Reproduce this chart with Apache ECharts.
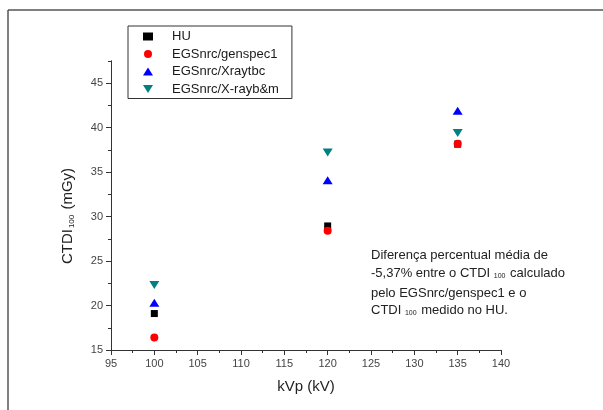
<!DOCTYPE html>
<html>
<head>
<meta charset="utf-8">
<script src="https://cdn.jsdelivr.net/npm/echarts@6/dist/echarts.min.js"></script>
<style>
html,body{margin:0;padding:0;background:#fff;}
#chart{width:603px;height:410px;}
</style>
</head>
<body>
<div id="chart"></div>
<script>
// kVp categories (x values)
const kvp = [100, 120, 135];
// CTDI100 (mGy) values per series
const huValues = [19.1, 28.95, 38.15];
const genspec1Values = [16.4, 28.4, 38.2];
const xraytbcValues = [20.3, 34.1, 41.9];
const xraybmValues = [22.3, 37.2, 39.4];
const seriesNames = ['HU', 'EGSnrc/genspec1', 'EGSnrc/Xraytbc', 'EGSnrc/X-rayb&m'];
const yTickLabels = [15, 20, 25, 30, 35, 40, 45];
const xTickLabels = [95, 100, 105, 110, 115, 120, 125, 130, 135, 140];

const FONT = "'Liberation Sans', Arial, Helvetica, sans-serif";

function pairs(vals) { return kvp.map((k, i) => [k, vals[i]]); }

const chart = echarts.init(document.getElementById('chart'), null, {renderer: 'canvas'});

const axisColor = '#333';
const downTri = 'path://M0,0L10,0L5,8Z';

chart.setOption({
  animation: false,
  backgroundColor: '#fff',
  grid: {left: 111, right: 102, top: 61, bottom: 60, containLabel: false},
  legend: {
    orient: 'vertical',
    left: 128, top: 26,
    padding: [2, 13, 1, 15],
    itemWidth: 10, itemHeight: 8,
    itemGap: 0.5,
    borderColor: '#333', borderWidth: 1,
    textStyle: {fontFamily: FONT, fontSize: 13, color: '#1a1a1a', lineHeight: 17, padding: [0, 0, 0, 14]},
    data: [
      {name: seriesNames[0], icon: 'rect'},
      {name: seriesNames[1], icon: 'circle'},
      {name: seriesNames[2], icon: 'triangle'},
      {name: seriesNames[3], icon: downTri}
    ]
  },
  xAxis: [{
    type: 'value',
    min: 95, max: 140, interval: 5,
    axisLine: {show: true, onZero: false, lineStyle: {color: axisColor, width: 1}},
    axisTick: {show: true, length: 5, lineStyle: {color: axisColor, width: 1}},
    splitLine: {show: false},
    axisLabel: {fontFamily: FONT, fontSize: 11, color: '#444', margin: 8,
      formatter: v => (xTickLabels.indexOf(v) >= 0 ? String(v) : '')},
    name: 'kVp (kV)',
    nameLocation: 'middle',
    nameGap: 29,
    nameTextStyle: {fontFamily: FONT, fontSize: 15, color: '#222'}
  }, {
    type: 'value',
    min: 95, max: 140, interval: 2.5,
    position: 'bottom',
    axisLine: {show: true, onZero: false, lineStyle: {color: axisColor, width: 1}},
    axisTick: {show: true, length: 3, lineStyle: {color: axisColor, width: 1}},
    splitLine: {show: false},
    axisLabel: {show: false}
  }],
  yAxis: [{
    type: 'value',
    min: 15, max: 47.5, interval: 5,
    position: 'left',
    axisLine: {show: true, onZero: false, lineStyle: {color: axisColor, width: 1}},
    axisTick: {show: true, length: 5, lineStyle: {color: axisColor, width: 1}, customValues: yTickLabels},
    splitLine: {show: false},
    axisLabel: {fontFamily: FONT, fontSize: 11, color: '#444', margin: 8, customValues: yTickLabels}
  }, {
    type: 'value',
    min: 15, max: 47.5, interval: 2.5,
    position: 'left',
    axisLine: {show: true, onZero: false, lineStyle: {color: axisColor, width: 1}},
    axisTick: {show: true, length: 3, lineStyle: {color: axisColor, width: 1}},
    splitLine: {show: false},
    axisLabel: {show: false}
  }],
  series: [
    {name: seriesNames[0], type: 'scatter', symbol: 'rect', symbolSize: 7,
      itemStyle: {color: '#000000', opacity: 1}, data: pairs(huValues)},
    {name: seriesNames[1], type: 'scatter', symbol: 'circle', symbolSize: 8,
      itemStyle: {color: '#ff0000', opacity: 1}, data: pairs(genspec1Values)},
    {name: seriesNames[2], type: 'scatter', symbol: 'triangle', symbolSize: [10, 8],
      itemStyle: {color: '#0000ff', opacity: 1}, data: pairs(xraytbcValues)},
    {name: seriesNames[3], type: 'scatter', symbol: 'triangle', symbolRotate: 180, symbolSize: [10, 8],
      itemStyle: {color: '#008080', opacity: 1}, data: pairs(xraybmValues)}
  ],
  graphic: [
    {type: 'line', shape: {x1: 8, y1: 10, x2: 603, y2: 10}, style: {stroke: '#555', lineWidth: 1.5}, silent: true},
    {type: 'line', shape: {x1: 8, y1: 10, x2: 8, y2: 410}, style: {stroke: '#555', lineWidth: 1.5}, silent: true},
    {type: 'text', x: 68, y: 216, rotation: Math.PI / 2,
      style: {text: 'CTDI{s|100} (mGy)', fontFamily: FONT, fontSize: 15, fill: '#222',
        align: 'center', verticalAlign: 'middle',
        rich: {s: {fontSize: 8, fontFamily: FONT, fill: '#222', verticalAlign: 'bottom', padding: [6, 1, 0, 1]}}}},
    {type: 'text', x: 371, y: 255,
      style: {text: 'Diferença percentual média de', fontFamily: FONT, fontSize: 13, fill: '#222', verticalAlign: 'middle'}},
    {type: 'text', x: 371, y: 273,
      style: {text: '-5,37% entre o CTDI {s|100} calculado', fontFamily: FONT, fontSize: 13, fill: '#222', verticalAlign: 'middle',
        rich: {s: {fontSize: 7, fontFamily: FONT, fill: '#222', verticalAlign: 'bottom', padding: [6, 1, 0, 0]}}}},
    {type: 'text', x: 371, y: 293,
      style: {text: 'pelo EGSnrc/genspec1 e o', fontFamily: FONT, fontSize: 13, fill: '#222', verticalAlign: 'middle'}},
    {type: 'text', x: 371, y: 310,
      style: {text: 'CTDI {s|100} medido no HU.', fontFamily: FONT, fontSize: 13, fill: '#222', verticalAlign: 'middle',
        rich: {s: {fontSize: 7, fontFamily: FONT, fill: '#222', verticalAlign: 'bottom', padding: [6, 1, 0, 0]}}}}
  ]
});
</script>
</body>
</html>
